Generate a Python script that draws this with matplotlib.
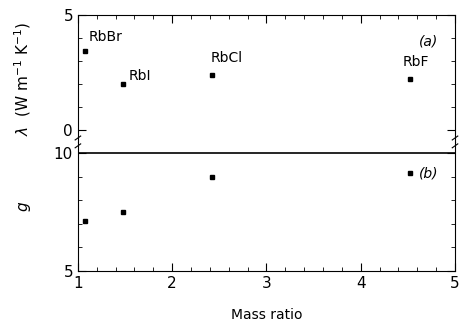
import matplotlib.pyplot as plt
from matplotlib.ticker import MultipleLocator

salts = ['RbBr', 'RbI', 'RbCl', 'RbF']
mass_ratio = [1.07, 1.48, 2.42, 4.52]
lam = [3.43, 2.0, 2.39, 2.22]
g = [7.12, 7.51, 8.97, 9.14]

plt.rcParams['font.family'] = 'DejaVu Sans'
plt.rcParams['font.size'] = 10

L, W = 0.169, 0.818
fig = plt.figure(figsize=(4.61, 3.27), dpi=100)
ax1 = fig.add_axes([L, 0.566, W, 0.388])
ax2 = fig.add_axes([L, 0.171, W, 0.395], sharex=ax1)

# top panel: thermal conductivity
ax1.plot(mass_ratio, lam, 's', color='black', markersize=3)
offsets = {'RbBr': (3, 5), 'RbI': (4, 1), 'RbCl': (-1, 7), 'RbF': (-5, 7)}
for name, x, y in zip(salts, mass_ratio, lam):
    ax1.annotate(name, (x, y), xytext=offsets[name], textcoords='offset points',
                 ha='left', va='bottom', fontsize=10)
ax1.text(4.82, 3.55, '(a)', style='italic', ha='right', va='bottom', fontsize=10)
ax1.set_xlim(1, 5)
ax1.set_ylim(-0.52, 5)
ax1.set_yticks([0, 5])
ax1.yaxis.set_minor_locator(MultipleLocator(1))
ax1.spines['bottom'].set_visible(False)
ax1.tick_params(axis='x', which='both', bottom=False, labelbottom=False, top=True, direction='in')
ax1.tick_params(axis='y', which='both', left=True, right=True, direction='in')
ax1.tick_params(which='major', length=6, labelsize=11)
ax1.tick_params(which='minor', length=3)
ax1.xaxis.set_major_locator(MultipleLocator(1))
ax1.xaxis.set_minor_locator(MultipleLocator(0.2))
ax1.set_ylabel(r'$\lambda$  (W m$^{-1}$ K$^{-1}$)', fontsize=11)

# bottom panel: g
ax2.plot(mass_ratio, g, 's', color='black', markersize=3)
ax2.axhline(10, color='black', linewidth=1.2)
ax2.text(4.62, 9.14, '(b)', style='italic', ha='left', va='center', fontsize=10)
ax2.set_ylim(5, 10.47)
ax2.set_yticks([5, 10])
ax2.yaxis.set_minor_locator(MultipleLocator(1))
ax2.spines['top'].set_visible(False)
ax2.tick_params(axis='x', which='both', bottom=True, top=False, direction='in')
ax2.tick_params(axis='y', which='both', left=True, right=True, direction='in')
ax2.tick_params(which='major', length=6, labelsize=11)
ax2.tick_params(which='minor', length=3)
ax2.set_xticks([1, 2, 3, 4, 5])
ax2.xaxis.set_minor_locator(MultipleLocator(0.2))
ax2.set_ylabel('$g$', fontsize=11)
ax2.set_xlabel('Mass ratio', labelpad=12, fontsize=10)
ax1.yaxis.set_label_coords(-0.12, 0.5)
ax2.yaxis.set_label_coords(-0.12, 0.5)

# axis break marks on both spines
for xb in (0, 1):
    for dy in (-0.012, 0.012):
        fig.add_artist(plt.Line2D([L + xb * W - 0.006, L + xb * W + 0.006],
                                  [0.566 + dy - 0.006, 0.566 + dy + 0.006],
                                  color='black', linewidth=0.8))

fig.savefig('out.png', dpi=100)
